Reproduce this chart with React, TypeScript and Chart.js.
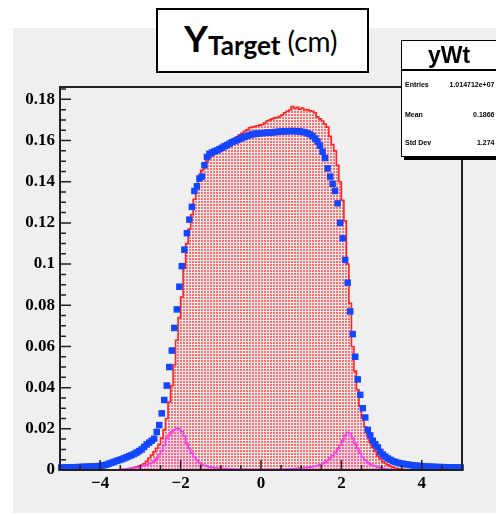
import { useEffect, useRef } from 'react';
import { Chart, registerables } from 'chart.js';

Chart.register(...registerables);

// Histogram binning (160 bins from -5 to 5)
const X_MIN = -5;
const X_MAX = 5;

// Blue markers (per bin)
const BLUE = [
  0.0012, 0.0012, 0.0012, 0.0013, 0.0013, 0.0013, 0.0014, 0.0014,
  0.0015, 0.0015, 0.0016, 0.0016, 0.0017, 0.0017, 0.0018, 0.0019,
  0.0021, 0.0023, 0.0026, 0.0031, 0.0035, 0.0039, 0.0044, 0.0048,
  0.0052, 0.0057, 0.0062, 0.0067, 0.0072, 0.0078, 0.0085, 0.0092,
  0.0100, 0.0112, 0.0124, 0.0133, 0.0142, 0.0152, 0.0185, 0.0218,
  0.0275, 0.034, 0.041, 0.050, 0.058, 0.069, 0.078, 0.089,
  0.099, 0.107, 0.115, 0.1216, 0.1278, 0.1355, 0.1378, 0.1415,
  0.1425, 0.148, 0.152, 0.1535, 0.1542, 0.1547, 0.1552, 0.1558,
  0.1565, 0.1572, 0.1578, 0.1585, 0.1592, 0.1597, 0.1602, 0.1608,
  0.1613, 0.1618, 0.1622, 0.1627, 0.163, 0.1632, 0.1634, 0.1635,
  0.1636, 0.1637, 0.1638, 0.1638, 0.164, 0.1641, 0.1642, 0.1643,
  0.1644, 0.1645, 0.1645, 0.1646, 0.1646, 0.1645, 0.1645, 0.1644,
  0.1642, 0.164, 0.1635, 0.163, 0.1622, 0.161, 0.1595, 0.1575,
  0.1545, 0.1515, 0.1465, 0.1425, 0.139, 0.1355, 0.1295, 0.120,
  0.1125, 0.102, 0.091, 0.077, 0.066, 0.055, 0.044, 0.0365,
  0.030, 0.0255, 0.0195, 0.0168, 0.0142, 0.0125, 0.011, 0.0088,
  0.0075, 0.0065, 0.0056, 0.0049, 0.0043, 0.0039, 0.0035, 0.0032,
  0.003, 0.0028, 0.0026, 0.0024, 0.0022, 0.0021, 0.002, 0.0019,
  0.0018, 0.0017, 0.0016, 0.0016, 0.0015, 0.0015, 0.0014, 0.0014,
  0.0014, 0.0013, 0.0013, 0.0013, 0.0012, 0.0012, 0.0012, 0.0012,
];

// Red filled histogram (yWt)
const RED = [
  0, 0, 0, 0, 0, 0, 0, 0,
  0, 0, 0, 0, 0, 0, 0, 0,
  0, 0, 0, 0, 0, 0, 0, 0,
  0.0002, 0.0003, 0.0005, 0.0007, 0.0009, 0.0012, 0.0015, 0.0019,
  0.0024, 0.003, 0.0042, 0.0058, 0.0072, 0.0088, 0.0105, 0.0125,
  0.0155, 0.0195, 0.025, 0.033, 0.041, 0.051, 0.063, 0.074,
  0.084, 0.098, 0.110, 0.117, 0.124, 0.1315, 0.138, 0.143,
  0.1455, 0.1475, 0.150, 0.1515, 0.1528, 0.1538, 0.1545, 0.1555,
  0.1562, 0.157, 0.158, 0.159, 0.1598, 0.161, 0.1618, 0.1628,
  0.1635, 0.1645, 0.1652, 0.1662, 0.1665, 0.1668, 0.1672, 0.1675,
  0.1678, 0.1685, 0.1695, 0.170, 0.1705, 0.171, 0.1712, 0.1718,
  0.1725, 0.1735, 0.1742, 0.1748, 0.1765, 0.1758, 0.1762, 0.1752,
  0.1758, 0.1748, 0.175, 0.1745, 0.1742, 0.1735, 0.1715, 0.1705,
  0.1695, 0.168, 0.1665, 0.162, 0.158, 0.155, 0.148, 0.140,
  0.131, 0.121, 0.100, 0.081, 0.060, 0.048, 0.039, 0.031,
  0.0252, 0.021, 0.0165, 0.0135, 0.011, 0.009, 0.0068, 0.0055,
  0.0042, 0.0032, 0.0025, 0.0019, 0.0014, 0.001, 0.0007, 0.0005,
  0.0003, 0.0002, 0, 0, 0, 0, 0, 0,
  0, 0, 0, 0, 0, 0, 0, 0,
  0, 0, 0, 0, 0, 0, 0, 0,
];

// Magenta histogram (two side peaks)
const MAGENTA = [
  0, 0, 0, 0, 0, 0, 0, 0,
  0, 0, 0, 0, 0, 0, 0, 0,
  0, 0, 0, 0, 0, 0,
  0.0002, 0.0002, 0.0003, 0.0004, 0.0005, 0.0006, 0.0008, 0.001,
  0.0012, 0.0015, 0.0018, 0.0022, 0.0026, 0.003, 0.0036, 0.0043,
  0.0055, 0.0075, 0.0095, 0.012, 0.0155, 0.017, 0.0185, 0.0195,
  0.0203, 0.020, 0.0188, 0.0165, 0.0128, 0.0105, 0.0082, 0.0062,
  0.0048, 0.0036, 0.0028, 0.0022, 0.0018, 0.0015, 0.0013, 0.0011,
  0.001, 0.0009, 0.0008, 0.0007, 0.0007, 0.0006, 0.0006, 0.0005,
  0.0005, 0.0005, 0.0005, 0.0004, 0.0004, 0.0004, 0.0004, 0.0004,
  0.0004, 0.0004, 0.0004, 0.0004, 0.0004, 0.0004, 0.0004, 0.0004,
  0.0004, 0.0004, 0.0004, 0.0005, 0.0005, 0.0006, 0.0006, 0.0007,
  0.0008, 0.0009, 0.001, 0.0011, 0.0012, 0.0014, 0.0016, 0.0018,
  0.0021, 0.0025, 0.003, 0.0037, 0.0046, 0.0058, 0.007, 0.0084,
  0.0102, 0.012, 0.0145, 0.0168, 0.0183, 0.0178, 0.0155, 0.0128,
  0.0105, 0.0082, 0.0062, 0.0048, 0.0037, 0.0029, 0.0023, 0.0018,
  0.0014, 0.0011, 0.0008, 0.0006, 0.0004, 0.0003, 0.0002, 0.0001,
  0, 0, 0, 0, 0, 0, 0, 0, 0, 0, 0, 0, 0,
  0, 0, 0, 0, 0, 0, 0, 0, 0, 0, 0, 0, 0,
];

const X_TICKS = [-4, -2, 0, 2, 4];
const Y_TICKS = [0, 0.02, 0.04, 0.06, 0.08, 0.1, 0.12, 0.14, 0.16, 0.18];
const Y_MAX = 0.186;

const STATS_TITLE = 'yWt';
const STAT_LABELS = ['Entries', 'Mean', 'Std Dev'];
const STAT_VALUES = ['1.014712e+07', '0.1866', '1.274'];

const binWidth = (X_MAX - X_MIN) / RED.length;
const binCenter = (i: number) => X_MIN + binWidth * (i + 0.5);
const toPoints = (arr: number[]) => arr.map((y, i) => ({ x: binCenter(i), y }));

function makePattern(): CanvasPattern | string {
  const c = document.createElement('canvas');
  c.width = 3;
  c.height = 3;
  const g = c.getContext('2d');
  if (!g) return 'rgba(250,175,175,1)';
  g.fillStyle = '#feeaea';
  g.fillRect(0, 0, 3, 3);
  g.fillStyle = '#f77272';
  g.fillRect(0, 0, 2, 2);
  const p = g.createPattern(c, 'repeat');
  return p || 'rgba(250,175,175,1)';
}

const framePlugin = {
  id: 'rootFrame',
  afterDatasetsDraw(chart: any) {
    const { ctx, chartArea: a, scales } = chart;
    const xs = scales.x;
    const ys = scales.y;
    ctx.save();
    ctx.strokeStyle = '#222';
    ctx.lineWidth = 1.5;
    ctx.beginPath();
    for (let k = 0; k * 0.005 <= Y_MAX + 1e-9; k++) {
      const y = ys.getPixelForValue(k * 0.005);
      const len = k % 4 === 0 ? 11 : 6;
      ctx.moveTo(a.left, y);
      ctx.lineTo(a.left + len, y);
    }
    for (let k = 0; k <= 20; k++) {
      const x = xs.getPixelForValue(X_MIN + k * 0.5);
      const len = k % 4 === 2 ? 10 : 5;
      ctx.moveTo(x, a.bottom);
      ctx.lineTo(x, a.bottom - len);
    }
    ctx.stroke();
    ctx.lineWidth = 2;
    ctx.strokeRect(a.left, a.top, a.right - a.left, a.bottom - a.top);
    ctx.restore();
  },
};

export default function App() {
  const ref = useRef<HTMLCanvasElement | null>(null);

  useEffect(() => {
    if (!ref.current) return;
    const tickFont = { family: '"Liberation Serif", "Times New Roman", serif', size: 17, weight: 'bold' as const };
    const chart = new Chart(ref.current, {
      type: 'line',
      data: {
        datasets: [
          {
            label: 'blue',
            data: toPoints(BLUE),
            showLine: false,
            pointStyle: 'rect',
            pointRadius: 4.6,
            pointBackgroundColor: '#1446ff',
            pointBorderColor: '#1446ff',
            pointBorderWidth: 0,
            order: 0,
            clip: false as any,
          },
          {
            label: 'magenta',
            data: toPoints(MAGENTA),
            borderColor: '#f23cf0',
            borderWidth: 1.6,
            stepped: 'middle',
            fill: 'origin',
            backgroundColor: 'rgba(255,60,255,0.13)',
            pointRadius: 0,
            order: 1,
          },
          {
            label: 'yWt',
            data: toPoints(RED),
            borderColor: '#ff2222',
            borderWidth: 1.6,
            stepped: 'middle',
            fill: 'origin',
            backgroundColor: makePattern() as any,
            pointRadius: 0,
            order: 2,
          },
        ],
      },
      options: {
        animation: false,
        responsive: false,
        maintainAspectRatio: false,
        events: [],
        layout: { padding: { left: 0, top: 87, right: 34, bottom: 0 } },
        plugins: { legend: { display: false }, tooltip: { enabled: false } },
        scales: {
          x: {
            type: 'linear',
            min: X_MIN,
            max: X_MAX,
            grid: { display: false, drawTicks: false },
            border: { display: false },
            afterBuildTicks: (s: any) => {
              s.ticks = X_TICKS.map((v) => ({ value: v }));
            },
            afterFit: (s: any) => {
              s.height = 45;
            },
            ticks: {
              font: tickFont,
              color: '#000',
              padding: 3,
              maxRotation: 0,
              autoSkip: false,
              callback: (v: any) => (Number(v) < 0 ? '\u2212' + Math.abs(Number(v)) : String(v)),
            },
          },
          y: {
            type: 'linear',
            min: 0,
            max: Y_MAX,
            grid: { display: false, drawTicks: false },
            border: { display: false },
            afterBuildTicks: (s: any) => {
              s.ticks = Y_TICKS.map((v) => ({ value: v }));
            },
            afterFit: (s: any) => {
              s.width = 60;
            },
            ticks: {
              font: tickFont,
              color: '#000',
              padding: 5,
              autoSkip: false,
              callback: (v: any) => String(Math.round(Number(v) * 100) / 100),
            },
          },
        },
      },
      plugins: [framePlugin],
    });
    return () => chart.destroy();
  }, []);

  const statTop = [80, 110, 138];

  return (
    <div style={{ position: 'absolute', left: 0, top: 0, width: 496, height: 515, overflow: 'hidden', background: '#fff' }}>
      <div style={{ position: 'absolute', left: 13, top: 28, width: 483, height: 485, background: '#efefef' }} />
      <canvas ref={ref} width={496} height={515} style={{ position: 'absolute', left: 0, top: 0, width: 496, height: 515 }} />
      <div
        style={{
          position: 'absolute', left: 156, top: 8, width: 213, height: 65, boxSizing: 'border-box',
          border: '2px solid #000', background: '#fff',
        }}
      />
      <div style={{ position: 'absolute', left: 184, top: 19, whiteSpace: 'nowrap', fontFamily: 'Lato, "Open Sans", sans-serif', lineHeight: 1, fontSize: 37, color: '#000' }}>
        <span style={{ fontWeight: 700 }}>Y</span>
        <span style={{ fontSize: 26, fontWeight: 700, position: 'relative', top: 3 }}>Target</span>
        <span style={{ fontSize: 28, fontWeight: 400 }}> (cm)</span>
      </div>
      <div
        style={{
          position: 'absolute', left: 401, top: 40, width: 100, height: 117, boxSizing: 'border-box',
          border: '1.5px solid #000', background: '#fff', boxShadow: '3px 3px 0 #000',
        }}
      />
      <div style={{ position: 'absolute', left: 401, top: 44, width: 96, textAlign: 'center', fontFamily: '"Liberation Sans", Arial, sans-serif', fontWeight: 700, fontSize: 23, lineHeight: '23px', color: '#000' }}>
        {STATS_TITLE}
      </div>
      <div style={{ position: 'absolute', left: 401, top: 69, width: 96, height: 1.5, background: '#000' }} />
      {STAT_LABELS.map((lab, i) => (
        <div key={lab}>
          <div style={{ position: 'absolute', left: 405, top: statTop[i], fontFamily: '"Liberation Sans", Arial, sans-serif', fontWeight: 700, fontSize: 7, lineHeight: '10px', color: '#000', whiteSpace: 'nowrap' }}>
            {lab}
          </div>
          <div style={{ position: 'absolute', left: 420, width: 74.5, top: statTop[i], textAlign: 'right', fontFamily: '"Liberation Sans", Arial, sans-serif', fontWeight: 700, fontSize: 7, lineHeight: '10px', color: '#000', whiteSpace: 'nowrap' }}>
            {STAT_VALUES[i]}
          </div>
        </div>
      ))}
    </div>
  );
}
